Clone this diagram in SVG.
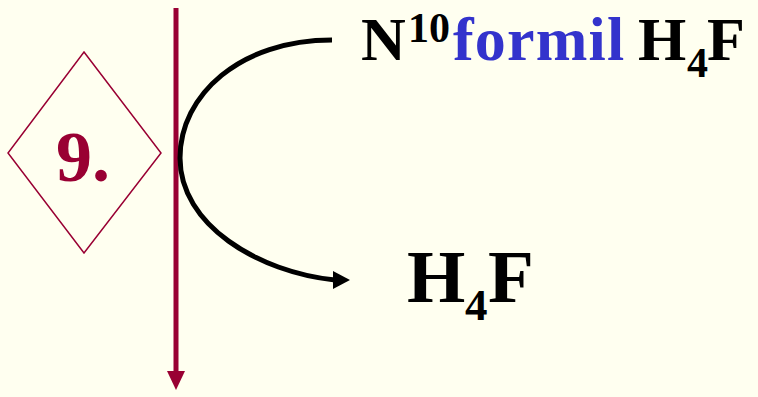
<svg xmlns="http://www.w3.org/2000/svg" width="758" height="397" viewBox="0 0 758 397">
<defs>
<style>
.t{font-family:"Liberation Serif","Times New Roman",serif;font-weight:bold;fill:#000}
.blue{fill:#3333CC}
.red{fill:#990033}
</style>
</defs>
<rect width="758" height="397" fill="#FFFFF0"/>
<g id="label-9">
<polygon points="84,52 161,153 84,253 8,153" fill="none" stroke="#990033" stroke-width="1.5"/>
<text class="t red" x="56" y="181" font-size="72">9.</text>
</g>
<g id="connectors">
<line x1="176" y1="8" x2="176" y2="372" stroke="#990033" stroke-width="5"/>
<polygon points="167,371 185,371 176,390" fill="#990033"/>
<path d="M332,40 C240,40 180,95 180,158 C180,225 258,272 335,280" fill="none" stroke="#000" stroke-width="5"/>
<polygon points="333,271 350,280 333,289" fill="#000"/>
</g>
<g id="n10-formil">
<text class="t" font-size="62"><tspan x="361" y="60">N</tspan><tspan x="408" y="42" font-size="42">10</tspan><tspan x="453" y="60" class="blue" letter-spacing="1.2">formil</tspan><tspan x="638" y="60">H</tspan><tspan x="687" y="77" font-size="42">4</tspan><tspan x="707" y="60">F</tspan></text>
</g>
<g id="h4f">
<text class="t" font-size="75"><tspan x="407" y="302">H</tspan><tspan x="465" y="320" font-size="45">4</tspan><tspan x="488" y="302">F</tspan></text>
</g>
</svg>
